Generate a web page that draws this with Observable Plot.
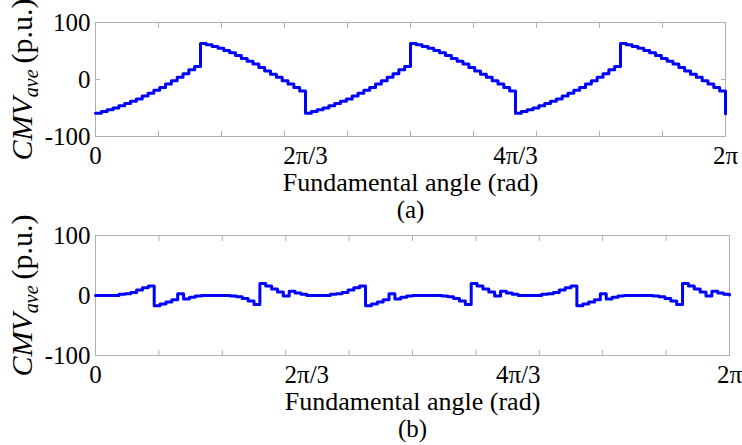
<!DOCTYPE html>
<html><head><meta charset="utf-8">
<script src="https://cdn.jsdelivr.net/npm/d3@7"></script>
<script src="https://cdn.jsdelivr.net/npm/@observablehq/plot@0.6"></script>
<style>
html,body{margin:0;padding:0;background:#fff;}
#chart{width:742px;font-family:"Liberation Serif","DejaVu Serif",serif;}
#chart svg{display:block;}
</style></head><body><div id="chart"></div>
<script>
// samples are one step (2π/108) apart, starting at angle 0
const stepsPerTurn = 108;
// (a) averaged common-mode voltage, p.u.
const cmvA = [
 -59,-56,-53,-50,-46,-42,-38,-34,-29,-24,-19,-14,-8,-2,4,10,17,23,
 63,61,58,55,51,47,42,37,32,27,21,15,9,4,-2,-8,-14,-20,
 -59,-56,-53,-50,-46,-42,-38,-34,-29,-24,-19,-14,-8,-2,4,10,17,23,
 63,61,58,55,51,47,42,37,32,27,21,15,9,4,-2,-8,-14,-20,
 -59,-56,-53,-50,-46,-42,-38,-34,-29,-24,-19,-14,-8,-2,4,10,17,23,
 63,61,58,55,51,47,42,37,32,27,21,15,9,4,-2,-8,-14,-20
];
const cmvAEnd = -60;
// (b) averaged common-mode voltage, p.u.
const cmvB = [
 0,0,0,0,2,3,5,9,13,16,-17,-14,-11,-7,3,-6,-3,-1,0,0,0,0,0,-1,-2,-5,-9,-15,20,16,11,6,-1,7,4,2,
 0,0,0,0,2,3,5,9,13,16,-17,-14,-11,-7,3,-6,-3,-1,0,0,0,0,0,-1,-2,-5,-9,-15,20,16,11,6,-1,7,4,2,
 0,0,0,0,2,3,5,9,13,16,-17,-14,-11,-7,3,-6,-3,-1,0,0,0,0,0,-1,-2,-5,-9,-15,20,16,11,6,-1,7,4,2
];
const cmvBEnd = 1;
const xTickLabels = ["0", "2π/3", "4π/3", "2π"];
const xTickLabelValues = [0, 2*Math.PI/3, 4*Math.PI/3, 2*Math.PI];
const xMinorTickCount = 10;
const yTicks = [-100, 0, 100];
const xTitle = "Fundamental angle (rad)";
const yTitle = "CMVave (p.u.)";
const captions = ["(a)", "(b)"];

const FONT = "Liberation Serif, DejaVu Serif, serif";
const GRAY = "#b0b0b0";
const minorTicks = d3.range(xMinorTickCount + 1).map(k => k * 2 * Math.PI / xMinorTickCount);
const labelMap = new Map(xTickLabelValues.map((v, i) => [v, xTickLabels[i]]));

function series(values, end) {
  const data = values.map((v, i) => ({theta: i * 2 * Math.PI / stepsPerTurn, v}));
  data.push({theta: 2 * Math.PI, v: end});
  return data;
}

function panel(values, end, caption, layout) {
  const svg = Plot.plot({
    width: 742, height: layout.height,
    marginLeft: 95, marginRight: layout.mr, marginTop: layout.mt, marginBottom: layout.mb,
    style: {background: "#fff", color: "#000", overflow: "visible"},
    x: {domain: [0, 2 * Math.PI]},
    y: {domain: [-100, 100]},
    marks: [
      Plot.frame({stroke: GRAY}),
      Plot.axisX(minorTicks, {anchor: "bottom", tickSize: -5, text: null, stroke: GRAY, label: null}),
      Plot.axisX(minorTicks, {anchor: "top", tickSize: -5, text: null, stroke: GRAY, label: null}),
      Plot.axisX(xTickLabelValues, {anchor: "bottom", tickSize: 0, tickPadding: 10, tickFormat: d => labelMap.get(d), fontSize: 25, fontFamily: FONT, label: null}),
      Plot.axisY(yTicks, {anchor: "left", tickSize: -5, text: null, stroke: GRAY, label: null}),
      Plot.axisY(yTicks, {anchor: "right", tickSize: -5, text: null, stroke: GRAY, label: null}),
      Plot.axisY(yTicks, {anchor: "left", tickSize: 0, tickPadding: 5, tickFormat: d => String(d), fontSize: 25, fontFamily: FONT, label: null}),
      Plot.line(series(values, end), {x: "theta", y: "v", curve: "step-after", stroke: "#0000ff", strokeWidth: 3}),
      Plot.text([xTitle], {frameAnchor: "bottom", textAnchor: "middle", lineAnchor: "bottom", dy: 54, fontSize: 26, fontFamily: FONT}),
      Plot.text([caption], {frameAnchor: "bottom", textAnchor: "middle", lineAnchor: "bottom", dy: 81, fontSize: 25, fontFamily: FONT}),
      Plot.text([yTitle], {frameAnchor: "left", textAnchor: "middle", rotate: -90, lineAnchor: "bottom", dx: -64, fontSize: 30, fontFamily: FONT})
    ]
  });
  svg.setAttribute("font-family", FONT);
  // style the y title: italic CMV with subscript "ave"
  d3.select(svg).selectAll("text").filter(function() { return this.textContent === yTitle; })
    .each(function() {
      const t = d3.select(this);
      t.text(null);
      t.append("tspan").attr("font-style", "italic").text("CMV");
      t.append("tspan").attr("font-style", "italic").attr("font-size", 20).attr("dy", 6).text("ave");
      t.append("tspan").attr("dy", -6).text("\u2009(p.u.)");
    });
  return svg;
}

const root = document.getElementById("chart");
root.appendChild(panel(cmvA, cmvAEnd, captions[0], {height: 222, mt: 22, mb: 86, mr: 17}));
root.appendChild(panel(cmvB, cmvBEnd, captions[1], {height: 223, mt: 13, mb: 90, mr: 13}));
</script>
</body></html>
